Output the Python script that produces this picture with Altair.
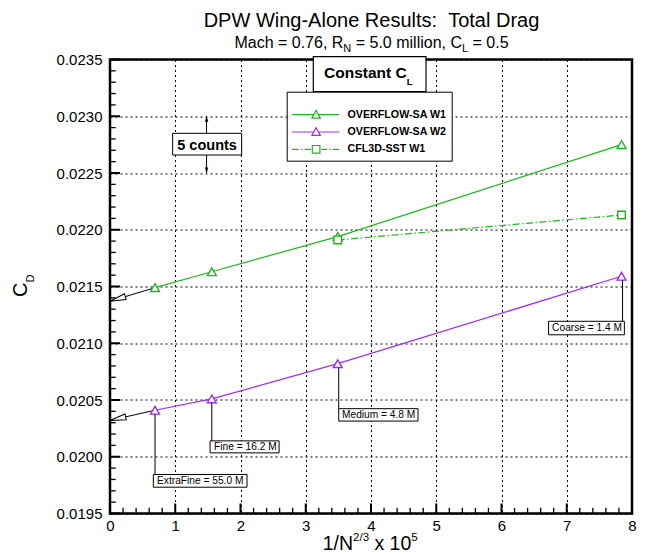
import math
import altair as alt
import pandas as pd

# ---------------- data ----------------
SERIES = ["OVERFLOW-SA W1", "OVERFLOW-SA W2", "CFL3D-SST W1"]
grid_x = [0.69, 1.56, 3.49, 7.84]          # 1/N^(2/3) x 10^5 : ExtraFine, Fine, Medium, Coarse
grid_labels = ["ExtraFine = 55.0 M", "Fine = 16.2 M", "Medium = 4.8 M", "Coarse = 1.4 M"]
cd_overflow_w1 = [0.02149, 0.02163, 0.02194, 0.02275]
cd_overflow_w2 = [0.02041, 0.02051, 0.02082, 0.02159]
cfl3d_x = [3.49, 7.84]
cd_cfl3d_w1 = [0.02191, 0.02213]
extrap_cd = [0.02137, 0.02032]             # extrapolated C_D at 1/N^(2/3) = 0 (W1, W2)
x_ticks = [0, 1, 2, 3, 4, 5, 6, 7, 8]
y_ticks = [0.0195, 0.0200, 0.0205, 0.0210, 0.0215, 0.0220, 0.0225, 0.0230, 0.0235]
count_x = 1.48
count_cd = [0.0225, 0.0230]                # "5 counts" bracket

# ---------------- layout / style ----------------
W, H = 522, 454
FONT = "Liberation Sans"
GREEN = "#1db51d"
PURPLE = "#9d2cf2"
COLORS = [GREEN, PURPLE, GREEN]
DASHES = [None, None, [7, 2.5, 1.5, 2.5]]
SHAPES = [("triangle-up", 80), ("triangle-up", 80), ("square", 58)]
PX_X = W / (x_ticks[-1] - x_ticks[0])
PX_CD = H / (y_ticks[-1] - y_ticks[0])

REG = {' ': 278, '\u00a0': 278, '/': 278, '.': 278, ',': 278, ':': 278, '-': 333, '=': 584,
       'A': 667, 'C': 722, 'D': 722, 'E': 667, 'F': 611, 'L': 556, 'M': 833, 'N': 722, 'R': 722,
       'T': 611, 'W': 944, 'P': 667, 'a': 556, 'c': 500, 'd': 556, 'e': 556, 'g': 556, 'h': 556,
       'i': 222, 'l': 222, 'm': 833, 'n': 556, 'o': 556, 'r': 333, 's': 500, 't': 278, 'u': 556,
       'x': 500}
BOLD = {' ': 278, '\u00a0': 278, 'C': 722, 'L': 611, 'o': 611, 'n': 611, 's': 556, 't': 333,
        'a': 556, 'u': 611, 'c': 556}


def tw(s, size, bold=False):
    tab = BOLD if bold else REG
    return sum(556 if ch.isdigit() else tab.get(ch, 556) for ch in s) * size / 1000.0


def nb(s):
    return s.replace(" ", "\u00a0")


def one():
    return alt.Data(values=[{"k": 1}])


def txt(text, x, y, size, bold=False, align="left", baseline="alphabetic", angle=None):
    mk = dict(align=align, baseline=baseline, fontSize=size, font=FONT, color="black")
    if bold:
        mk["fontWeight"] = "bold"
    if angle is not None:
        mk["angle"] = angle
    return alt.Chart(alt.Data(values=[{"t": nb(text)}])).mark_text(**mk).encode(
        x=alt.value(x), y=alt.value(y), text="t:N")


def pieces(parts, x0, base):
    """Chain text runs (for sub/superscripts); leading blanks become an x advance."""
    out = []
    x = x0
    for text, size, dy, bold in parts:
        stripped = text.lstrip(" ")
        x += tw(text[:len(text) - len(stripped)], size, bold)
        out.append(txt(stripped, x, base + dy, size, bold=bold))
        x += tw(stripped, size, bold)
    return out


xs = alt.Scale(domain=[x_ticks[0], x_ticks[-1]], nice=False, zero=False)
ys = alt.Scale(domain=[y_ticks[0], y_ticks[-1]], nice=False, zero=False)
x_axis = alt.Axis(values=x_ticks, format="d", title=None, grid=True, ticks=False, tickSize=0,
                  domain=False, labelPadding=5, labelFontSize=15, labelFont=FONT,
                  labelColor="black", gridColor="black", gridDash=[2, 3], gridWidth=1,
                  gridOpacity=1, labelFlush=False, labelOverlap=False, labelBound=False)
y_axis = alt.Axis(values=y_ticks, format=".4f", title=None, grid=True, ticks=False, tickSize=0,
                  domain=False, labelPadding=8, labelFontSize=15, labelFont=FONT,
                  labelColor="black", gridColor="black", gridDash=[2, 3], gridWidth=1,
                  gridOpacity=1, labelFlush=False, labelOverlap=False, labelBound=False)


def X(f):
    return alt.X(f"{f}:Q", scale=xs, axis=x_axis)


def Y(f):
    return alt.Y(f"{f}:Q", scale=ys, axis=y_axis)


rows = []
for xv, cv in zip(grid_x, cd_overflow_w1):
    rows.append({"series": SERIES[0], "x": xv, "cd": cv})
for xv, cv in zip(grid_x, cd_overflow_w2):
    rows.append({"series": SERIES[1], "x": xv, "cd": cv})
for xv, cv in zip(cfl3d_x, cd_cfl3d_w1):
    rows.append({"series": SERIES[2], "x": xv, "cd": cv})
df = pd.DataFrame(rows)

layers = []

# series lines
for name, col, dash in zip(SERIES, COLORS, DASHES):
    mk = dict(color=col, strokeWidth=1.2)
    if dash:
        mk["strokeDash"] = dash
    layers.append(alt.Chart(df[df.series == name]).mark_line(**mk).encode(
        x=X("x"), y=Y("cd"), order="x:Q"))

# extrapolation arrows to 1/N^(2/3) = 0
arrow_df = pd.DataFrame({
    "x0": [0.0, 0.0], "cd0": extrap_cd,
    "x1": [grid_x[0], grid_x[0]], "cd1": [cd_overflow_w1[0], cd_overflow_w2[0]]})
layers.append(alt.Chart(arrow_df).mark_rule(color="black", strokeWidth=1).encode(
    x=X("x0"), y=Y("cd0"), x2="x1:Q", y2="cd1:Q"))
for i in range(2):
    dxp = grid_x[0] * PX_X
    dyp = ([cd_overflow_w1[0], cd_overflow_w2[0]][i] - extrap_cd[i]) * PX_CD
    ang = 360 - math.degrees(math.atan2(dyp, dxp))
    layers.append(alt.Chart(arrow_df.iloc[[i]]).mark_point(
        shape="M 0 0 L 16 -3 L 16 3 Z", size=4, filled=True, fill="white", stroke="black",
        strokeWidth=1, opacity=1, angle=ang).encode(x=X("x0"), y=Y("cd0")))

# series markers
for name, col, (shape, size) in zip(SERIES, COLORS, SHAPES):
    layers.append(alt.Chart(df[df.series == name]).mark_point(
        shape=shape, size=size, filled=True, fill="white", stroke=col, strokeWidth=1.4,
        opacity=1).encode(x=X("x"), y=Y("cd")))

# "5 counts" bracket
count_df = pd.DataFrame({"cx": [count_x], "lo": [count_cd[0]], "hi": [count_cd[1]],
                         "mid": [(count_cd[0] + count_cd[1]) / 2]})
layers.append(alt.Chart(count_df).mark_rule(color="black", strokeWidth=1).encode(
    x=X("cx"), y=Y("lo"), y2="hi:Q"))
layers.append(alt.Chart(count_df).mark_point(
    shape="M 0 0 L 1.7 5.5 L -1.7 5.5 Z", size=4, filled=True, color="black", opacity=1).encode(
    x=X("cx"), y=Y("hi")))
layers.append(alt.Chart(count_df).mark_point(
    shape="M 0 0 L 1.7 -5.5 L -1.7 -5.5 Z", size=4, filled=True, color="black", opacity=1).encode(
    x=X("cx"), y=Y("lo")))
layers.append(alt.Chart(count_df).mark_point(
    shape="M -33.9 -11.3 H 35.1 V 10.4 H -33.9 Z", size=4, filled=True, fill="white",
    stroke="black", strokeWidth=1, opacity=1).encode(x=X("cx"), y=Y("mid")))
layers.append(alt.Chart(count_df.assign(t="5\u00a0counts")).mark_text(
    align="center", baseline="alphabetic", dx=0.5, dy=4.9, fontSize=14.5, fontWeight="bold",
    font=FONT, color="black").encode(x=X("cx"), y=Y("mid"), text="t:N"))

# grid-size labels with leader lines (anchored at the W2 points)
ann_style = [
    ("M 0 4 L 0 64.3 M -1.7 64.3 H 92 V 77 H -1.7 Z", "left", 2.0, 70.7),
    ("M 0 4 L 0 42 M -1.7 42 H 67.3 V 54 H -1.7 Z", "left", 2.3, 48.0),
    ("M 1 4 L 1 45 M 1 45 H 80.3 V 57.4 H 1 Z", "left", 4.3, 51.2),
    ("M 1 4 L 1 45 M -73 45 H 2.8 V 58.5 H -73 Z", "right", 0.5, 51.8),
]
for i, (path, align, dx, dy) in enumerate(ann_style):
    d = pd.DataFrame({"x": [grid_x[i]], "cd": [cd_overflow_w2[i]], "t": [nb(grid_labels[i])]})
    layers.append(alt.Chart(d).mark_point(
        shape=path, size=4, filled=True, fill="white", stroke="black", strokeWidth=1,
        opacity=1).encode(x=X("x"), y=Y("cd")))
    layers.append(alt.Chart(d).mark_text(
        align=align, baseline="middle", dx=dx, dy=dy, fontSize=10.2, font=FONT,
        color="black").encode(x=X("x"), y=Y("cd"), text="t:N"))

# inward ticks
y_minor = [round(y_ticks[0] + i * 0.0001, 4) for i in range(41) if i % 5]
x_minor = [round(i * 0.2, 1) for i in range(41) if i % 5]
layers.append(alt.Chart(pd.DataFrame({"v": y_ticks})).mark_rule(color="black", strokeWidth=2).encode(
    y=Y("v"), x=alt.value(0), x2=alt.value(10)))
layers.append(alt.Chart(pd.DataFrame({"v": y_minor})).mark_rule(color="black", strokeWidth=1.3).encode(
    y=Y("v"), x=alt.value(0), x2=alt.value(5.7)))
layers.append(alt.Chart(pd.DataFrame({"v": x_ticks})).mark_rule(color="black", strokeWidth=2).encode(
    x=X("v"), y=alt.value(H), y2=alt.value(H - 10)))
layers.append(alt.Chart(pd.DataFrame({"v": x_minor})).mark_rule(color="black", strokeWidth=1.3).encode(
    x=X("v"), y=alt.value(H), y2=alt.value(H - 5.7)))

# plot frame
layers.append(alt.Chart(one()).mark_rect(fillOpacity=0, stroke="black", strokeWidth=2.5).encode(
    x=alt.value(0), x2=alt.value(W), y=alt.value(0), y2=alt.value(H)))

# "Constant C_L" box
layers.append(alt.Chart(one()).mark_rect(fill="white", stroke="black", strokeWidth=1.2).encode(
    x=alt.value(203.3), x2=alt.value(316), y=alt.value(-2.8), y2=alt.value(32.2)))
layers += pieces([("Constant C", 15.5, 0, True), ("L", 9.5, 6.7, True)], 214, 18.8)

# titles
layers.append(txt("DPW Wing-Alone Results:  Total Drag", 261.5, -32.8, 20, align="center"))
sub = [("Mach = 0.76, R", 16, 0, False), ("N", 11, 3.8, False),
       (" = 5.0 million, C", 16, 0, False), ("L", 11, 3.8, False), (" = 0.5", 16, 0, False)]
sub_w = sum(tw(t, s, b) for t, s, _, b in sub)
layers += pieces(sub, 261.5 - sub_w / 2, -11.2)
layers += pieces([("1/N", 19.5, 0, False), ("2/3", 11.5, -9, False),
                  (" x 10", 19.5, 0, False), ("5", 11.5, -9, False)], 212.7, 490.5)
layers.append(txt("C", -83, 237.5, 20, angle=270))
layers.append(txt("D", -76, 237.5 - tw("C", 20), 11, angle=270))

# legend (line + symbol glyphs), scale 8 px per unit at symbolSize 256
U = 8.0


def fmt(v):
    return f"{v / U:.4f}"


tri = (f"M {fmt(-24)} 0 L {fmt(-2.4)} 0 M {fmt(2.4)} 0 L {fmt(23)} 0 "
       f"M 0 {fmt(-4.3)} L {fmt(4.2)} {fmt(3.4)} L {fmt(-4.2)} {fmt(3.4)} Z")
segs = [(-24, -17.5), (-15.3, -13.8), (-11.6, -5.2), (5.2, 11.2), (13.2, 14.6), (16.8, 23)]
sq = " ".join(f"M {fmt(a)} 0 L {fmt(b)} 0" for a, b in segs)
sq += f" M {fmt(-3.8)} {fmt(-3.8)} L {fmt(3.8)} {fmt(-3.8)} L {fmt(3.8)} {fmt(3.8)} L {fmt(-3.8)} {fmt(3.8)} Z"

leg = alt.Legend(title=" ", orient="none", legendX=176.7, legendY=32.2, padding=5,
                 fillColor="white", strokeColor="black", labelFont=FONT, labelFontSize=10.7,
                 labelFontWeight="bold", labelColor="black", labelOffset=22.4, symbolOffset=15.4,
                 rowPadding=2.3, titleFontSize=6, titlePadding=3, symbolSize=256,
                 symbolStrokeWidth=1.2, symbolOpacity=1, labelLimit=300)
layers.append(alt.Chart(df).transform_filter("datum.x < -100").mark_point(
    filled=False, size=256, strokeWidth=1.2).encode(
    x=X("x"), y=Y("cd"),
    color=alt.Color("series:N", scale=alt.Scale(domain=SERIES, range=COLORS), legend=leg),
    shape=alt.Shape("series:N", scale=alt.Scale(domain=SERIES, range=[tri, tri, sq]), legend=leg)))

chart = alt.layer(*layers).properties(
    width=W, height=H,
    padding={"left": 102, "top": 51.5, "right": 6, "bottom": 42},
    autosize=alt.AutoSizeParams(type="none"),
    background="white",
).configure_view(strokeWidth=0)

chart.save("out.html", embed_options={"renderer": "svg", "actions": False})
